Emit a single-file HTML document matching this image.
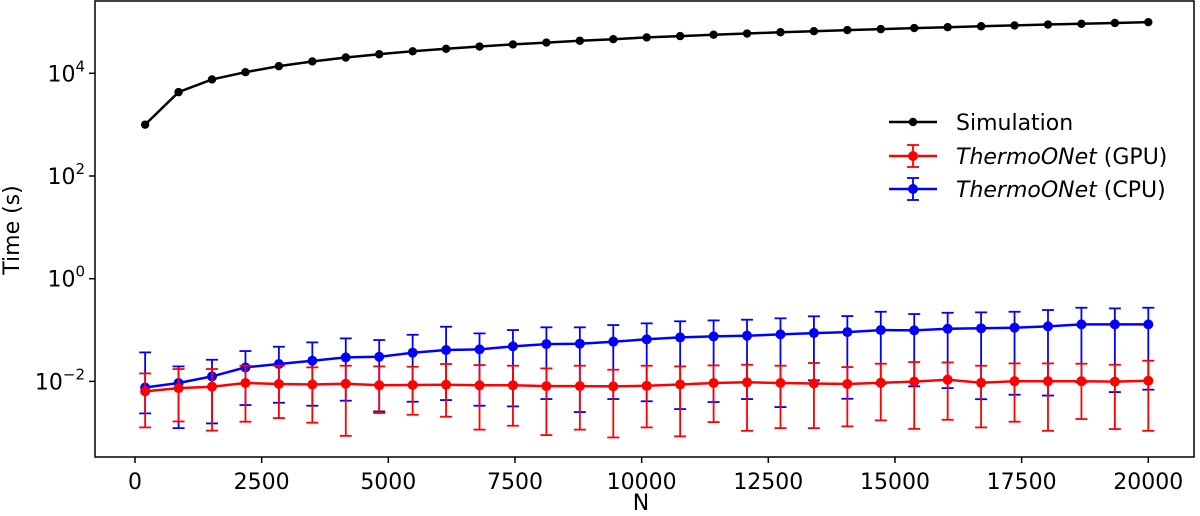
<!DOCTYPE html>
<html><head><meta charset="utf-8"><style>
body{margin:0;background:#fff;}
svg{display:block;font-family:"DejaVu Sans","Liberation Sans",sans-serif;}
</style></head><body>
<svg id="chart" width="1200" height="516" viewBox="0 0 1200 516"></svg>
<script>
const nValues = [200,860,1520,2180,2840,3500,4160,4820,5480,6140,6800,7460,8120,8780,9440,10100,10760,11420,12080,12740,13400,14060,14720,15380,16040,16700,17360,18020,18680,19340,20000];
const simValues = [1000,4300,7600,10500,13800,17000,20300,23500,26800,30000,33200,36500,39700,43000,46200,50000,53000,56500,59500,63000,66000,69500,72500,76000,79000,82500,85500,89000,92000,95500,99000];
const gpuValues = [0.0064,0.0074,0.0079,0.0093,0.0089,0.0087,0.0090,0.0084,0.0085,0.0086,0.0084,0.0084,0.0081,0.0081,0.0080,0.0082,0.0087,0.0093,0.0096,0.0093,0.0091,0.0089,0.0094,0.0099,0.0108,0.0094,0.0101,0.0101,0.0101,0.0099,0.0103];
const gpuUpper = [0.0143,0.0174,0.0174,0.0202,0.0202,0.0188,0.0202,0.0196,0.0193,0.0218,0.0208,0.0202,0.0179,0.0202,0.0169,0.0202,0.0196,0.0205,0.0211,0.0202,0.0228,0.0190,0.0221,0.0238,0.0234,0.0202,0.0224,0.0224,0.0221,0.0211,0.0253];
const gpuLower = [0.00127,0.00166,0.00110,0.00164,0.00193,0.00157,0.00087,0.00242,0.00224,0.00205,0.00115,0.00137,0.00090,0.00115,0.00081,0.00127,0.00085,0.00161,0.00109,0.00123,0.00123,0.00133,0.00174,0.00119,0.00179,0.00127,0.00164,0.00109,0.00185,0.00118,0.00109];
const cpuValues = [0.0076,0.0093,0.0125,0.0187,0.0218,0.0253,0.0293,0.0302,0.0362,0.0408,0.0420,0.0481,0.0533,0.0542,0.0594,0.0660,0.0719,0.0752,0.0777,0.0824,0.0874,0.0913,0.1000,0.0985,0.106,0.108,0.111,0.118,0.129,0.129,0.129];
const cpuUpper = [0.0367,0.0196,0.0264,0.0390,0.0473,0.0575,0.0688,0.0639,0.0809,0.116,0.0861,0.100,0.113,0.113,0.125,0.135,0.148,0.154,0.159,0.169,0.185,0.187,0.227,0.205,0.217,0.221,0.227,0.245,0.272,0.264,0.272];
const cpuLower = [0.00238,0.00123,0.00152,0.00346,0.00384,0.00336,0.00421,0.00260,0.00402,0.00433,0.00336,0.00326,0.00453,0.00253,0.00453,0.0041,0.00289,0.00396,0.00453,0.00316,0.0105,0.00459,0.009,0.0080,0.0074,0.0045,0.0055,0.0053,0.0095,0.0062,0.0069];
const xTicks = [0,2500,5000,7500,10000,12500,15000,17500,20000];
const yTickExps = [-2,0,2,4];

const NS = "http://www.w3.org/2000/svg";
const svg = document.getElementById('chart');
const L=95, R=1194, T=1, B=457;
function xs(n){return 135 + (n/20000)*1013.3;}
function ys(v){return 278.7 - 51.35*Math.log10(v);}
function mk(tag, attrs, parent){const e=document.createElementNS(NS,tag);for(const k in attrs)e.setAttribute(k,attrs[k]);(parent||svg).appendChild(e);return e;}

const frame = mk('rect',{x:L,y:T,width:R-L,height:B-T,fill:'none',stroke:'#000','stroke-width':1.5});



xTicks.forEach(t=>{
  const g=mk('g',{});
  
  
  mk('line',{x1:xs(t),x2:xs(t),y1:B,y2:B+6,stroke:'#000','stroke-width':1.5},g);
  const tx=mk('text',{x:xs(t),y:B+32,'text-anchor':'middle','font-size':22},g);
  tx.textContent=t;
});
yTickExps.forEach(e=>{
  const g=mk('g',{});
  
  
  const y=ys(Math.pow(10,e));
  mk('line',{x1:L-6,x2:L,y1:y,y2:y,stroke:'#000','stroke-width':1.5},g);
  const tx=mk('text',{x:L-10,y:y+8,'text-anchor':'end','font-size':22},g);
  const s1=mk('tspan',{},tx); s1.textContent='10';
  const s2=mk('tspan',{dy:-10,'font-size':15},tx); s2.textContent=(e<0?'\u2212'+(-e):e);
});
const xl=mk('text',{x:641,y:510,'text-anchor':'middle','font-size':22});
xl.textContent='N';


const yl=mk('text',{x:0,y:0,'text-anchor':'middle','font-size':22,transform:'translate(19,230) rotate(-90)'});
yl.textContent='Time (s)';



function series(name,vals,lo,hi,color){
  const g=mk('g',{});
  
  
  if(lo){
    vals.forEach((v,i)=>{
      const x=xs(nValues[i]),y1=ys(lo[i]),y2=ys(hi[i]);
      mk('line',{x1:x,x2:x,y1:y1,y2:y2,stroke:color,'stroke-width':1.8},g);
      mk('line',{x1:x-6,x2:x+6,y1:y1,y2:y1,stroke:color,'stroke-width':1.8},g);
      mk('line',{x1:x-6,x2:x+6,y1:y2,y2:y2,stroke:color,'stroke-width':1.8},g);
    });
  }
  const pts=vals.map((v,i)=>xs(nValues[i]).toFixed(1)+','+ys(v).toFixed(1)).join(' ');
  mk('polyline',{points:pts,fill:'none',stroke:color,'stroke-width':2.5},g);
  vals.forEach((v,i)=>{
    const c=mk('circle',{cx:xs(nValues[i]),cy:ys(v),r:lo?5:4.2,fill:color},g);
    
    
  });
}
series('simulation-series',simValues,null,null,'#000');
series('cpu-series',cpuValues,cpuLower,cpuUpper,'#0000ff');
series('gpu-series',gpuValues,gpuLower,gpuUpper,'#ff0000');

const leg=mk('g',{});


const entries=[['Simulation',null,'#000',122],['ThermoONet',' (GPU)','#ff0000',156],['ThermoONet',' (CPU)','#0000ff',189]];
entries.forEach(([a,b,c,y],i)=>{
  const g=mk('g',{},leg);
  
  
  mk('line',{x1:889,x2:937,y1:y,y2:y,stroke:c,'stroke-width':2.5},g);
  mk('circle',{cx:913,cy:y,r:b?5:4.2,fill:c},g);
  if(b){
    mk('line',{x1:913,x2:913,y1:y-11,y2:y+11,stroke:c,'stroke-width':1.8},g);
    mk('line',{x1:907,x2:919,y1:y-11,y2:y-11,stroke:c,'stroke-width':1.8},g);
    mk('line',{x1:907,x2:919,y1:y+11,y2:y+11,stroke:c,'stroke-width':1.8},g);
  }
  const t=mk('text',{x:956,y:y+8,'font-size':22},g);
  if(b){
    const s1=mk('tspan',{'font-style':'italic'},t); s1.textContent=a;
    const s2=mk('tspan',{},t); s2.textContent=b;
  } else t.textContent=a;
});
</script>
</body></html>
